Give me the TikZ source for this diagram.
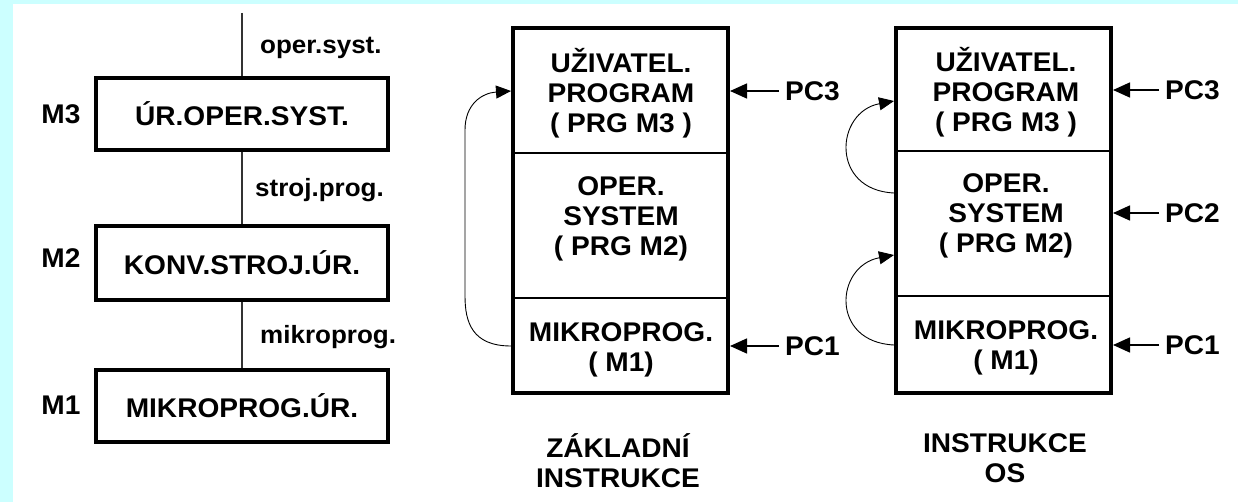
\documentclass[tikz,border=0pt]{standalone}
\usepackage{fontspec}
\setmainfont{Liberation Sans}[FakeStretch=1.04]
\usetikzlibrary{arrows.meta}
\definecolor{pagecyan}{HTML}{CCFFFF}

\begin{document}
\begin{tikzpicture}[x=1pt,y=-1pt,
  every node/.style={font=\bfseries\fontsize{27}{30}\selectfont, inner sep=0pt},
  levelbox/.style={draw, line width=4pt, minimum width=292pt, minimum height=72pt},
  stackframe/.style={draw, line width=4pt, minimum width=215pt, minimum height=365pt},
  stacktext/.style={align=center},
  divider/.style={line width=2pt},
  link/.style={line width=1.2pt, black!80},
  linklabel/.style={anchor=west, font=\bfseries\fontsize{25}{28}\selectfont},
  pcarrow/.style={line width=1.5pt, -{Triangle[length=17pt,width=15pt]}},
  loop/.style={line width=0.9pt, -{Triangle[length=15pt,width=13pt]}},
]
% page background
\fill[pagecyan] (0,0) rectangle (1238,502);
\fill[white] (13,4) rectangle (1238,502);
\useasboundingbox (0,0) rectangle (1238,502);

% ---- level hierarchy (left) ----
\node[levelbox] (L3) at (242,114) {ÚR.OPER.SYST.};
\node[levelbox, minimum height=74pt] (L2) at (242,263) {KONV.STROJ.ÚR.};
\node[levelbox] (L1) at (242,406) {MIKROPROG.ÚR.};
\node (M3) at (61,114) {M3};
\node (M2) at (61,258) {M2};
\node (M1) at (61,405) {M1};
\coordinate (top) at (242,13);
\draw[link] (top) -- (L3.north);
\draw[link] (L3.south) -- (L2.north);
\draw[link] (L2.south) -- (L1.north);
\node[linklabel] (os) at (260,48) {oper.syst.};
\node[linklabel] (sp) at (255,190) {stroj.prog.};
\node[linklabel] (mp) at (260,337) {mikroprog.};

% ---- program stack, basic instructions ----
\node[stackframe] (A) at (620.5,210.5) {};
\draw[divider] (A.west |- 0,153) -- (A.east |- 0,153);
\draw[divider] (A.west |- 0,298) -- (A.east |- 0,298);
\node[stacktext] (A3) at (621,93) {UŽIVATEL.\\PROGRAM\\( PRG M3 )};
\node[stacktext] (A2) at (621,219) {OPER.\\SYSTEM\\( PRG M2)};
\node[stacktext] (A1) at (621,350) {MIKROPROG.\\( M1)};
\node[anchor=west] (pA3) at (785,91) {PC3};
\node[anchor=west] (pA1) at (785,346) {PC1};
\draw[pcarrow] ([xshift=-6pt]pA3.west) -- (pA3.west -| A.east);
\draw[pcarrow] ([xshift=-6pt]pA1.west) -- (pA1.west -| A.east);
\coordinate (Aout) at (A.west |- pA1.west);
\coordinate (Ain) at (A.west |- pA3.west);
\draw[loop] (Aout) .. controls (472,346) and (465,322) .. (465,296)
  -- (465,130) .. controls (465,104) and (482,93) .. (Ain);
\node[stacktext] (capA) at (618,461) {ZÁKLADNÍ\\INSTRUKCE};

% ---- program stack, OS instructions ----
\node[stackframe] (B) at (1003.5,210.5) {};
\draw[divider] (B.west |- 0,151) -- (B.east |- 0,151);
\draw[divider] (B.west |- 0,296) -- (B.east |- 0,296);
\node[stacktext] (B3) at (1006,92) {UŽIVATEL.\\PROGRAM\\( PRG M3 )};
\node[stacktext] (B2) at (1006,216) {OPER.\\SYSTEM\\( PRG M2)};
\node[stacktext] (B1) at (1006,348) {MIKROPROG.\\( M1)};
\node[anchor=west] (pB3) at (1165,90) {PC3};
\node[anchor=west] (pB2) at (1165,213) {PC2};
\node[anchor=west] (pB1) at (1165,345) {PC1};
\draw[pcarrow] ([xshift=-6pt]pB3.west) -- (pB3.west -| B.east);
\draw[pcarrow] ([xshift=-6pt]pB2.west) -- (pB2.west -| B.east);
\draw[pcarrow] ([xshift=-6pt]pB1.west) -- (pB1.west -| B.east);
\coordinate (Bout2) at (B.west |- 0,193);
\coordinate (Bin3) at (B.west |- 0,101);
\coordinate (Bout1) at (B.west |- pB1.west);
\coordinate (Bin2) at (B.west |- 0,255);
\draw[loop] (Bout2) .. controls (830,190) and (835,112) .. (Bin3);
\draw[loop] (Bout1) .. controls (830,342) and (835,266) .. (Bin2);
\node[stacktext] (capB) at (1005,458) {INSTRUKCE\\OS};
\end{tikzpicture}
\end{document}
